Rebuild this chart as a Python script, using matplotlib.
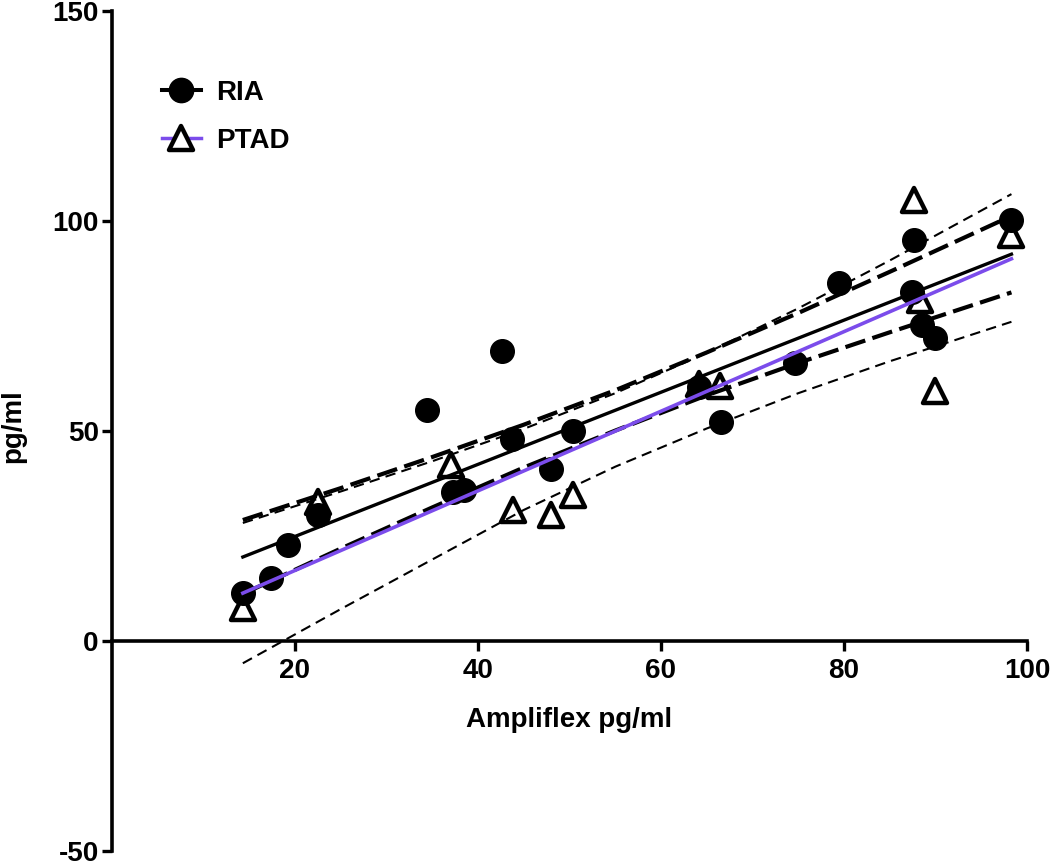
import matplotlib.pyplot as plt
from matplotlib.lines import Line2D
from matplotlib.markers import MarkerStyle

# values
ria_x = [14.3, 17.4, 19.2, 22.5, 34.4, 37.3, 38.5, 42.6, 43.7, 48.0,
         50.4, 64.1, 66.6, 74.6, 79.4, 87.4, 87.6, 88.5, 89.9, 98.3]
ria_y = [11.4, 15.0, 22.9, 30.0, 55.0, 35.5, 35.9, 69.0, 48.1, 41.0,
         50.1, 60.5, 52.1, 66.3, 85.2, 83.2, 95.4, 75.3, 72.2, 100.2]

ptad_x = [14.3, 22.5, 37.1, 43.8, 48.0, 50.4, 64.1, 66.4, 87.6, 88.3, 89.9, 98.3]
ptad_y = [7.9, 33.1, 41.8, 31.2, 30.0, 34.7, 61.1, 60.8, 104.9, 81.3, 59.6, 96.6]

# regression lines
fit_x = [14.3, 98.3]
ria_fit = [20.0, 92.1]
ptad_fit = [11.4, 91.0]

# 95% confidence bands
band_x = [14.3, 25, 35, 45, 55, 65, 75, 85, 98.3]
ria_hi = [28.8, 36.4, 43.8, 51.5, 59.7, 68.7, 78.1, 87.9, 101.2]
ria_lo = [11.2, 22.0, 31.8, 41.3, 50.1, 58.5, 66.2, 73.5, 83.0]
ptad_hi = [28.1, 35.6, 42.8, 50.5, 59.0, 68.6, 79.2, 90.6, 106.4]
ptad_lo = [-5.3, 7.6, 19.4, 31.2, 41.5, 50.6, 59.0, 66.6, 76.0]

x_ticks = [20, 40, 60, 80, 100]
y_ticks = [-50, 0, 50, 100, 150]

purple = '#7B4CEB'

plt.rcParams['font.family'] = ['Liberation Sans', 'DejaVu Sans']
plt.rcParams['font.weight'] = 'bold'
plt.rcParams['font.size'] = 20
plt.rcParams['axes.unicode_minus'] = False

fig = plt.figure(figsize=(10.5, 8.68), dpi=100)
ax = fig.add_axes([112 / 1050, 1 - 851 / 868, 915 / 1050, 840 / 868])

tri = MarkerStyle('^', joinstyle='round')

# points first, lines on top
ax.plot(ptad_x, ptad_y, linestyle='none', marker=tri, ms=17.5,
        mfc='white', mec='black', mew=3.2, zorder=2)
ax.plot(ria_x, ria_y, linestyle='none', marker='o', ms=17,
        mfc='black', mec='black', zorder=2.5)

ax.plot(band_x, ptad_hi, color='black', lw=1.5, dashes=(5, 3), zorder=3)
ax.plot(band_x, ptad_lo, color='black', lw=1.5, dashes=(5, 3), zorder=3)
ax.plot(band_x, ria_hi, color='black', lw=3.0, dashes=(5, 1.8), zorder=3.2)
ax.plot(band_x, ria_lo, color='black', lw=3.0, dashes=(5, 1.8), zorder=3.2)
ax.plot(fit_x, ria_fit, color='black', lw=2.4, zorder=3.4)
ax.plot(fit_x, ptad_fit, color=purple, lw=2.6, zorder=3.6)

ax.set_xlim(0, 100)
ax.set_ylim(-50, 150)
ax.set_xticks(x_ticks)
ax.set_yticks(y_ticks)

for s in ['top', 'right']:
    ax.spines[s].set_visible(False)
ax.spines['bottom'].set_position(('data', 0))
ax.spines['bottom'].set_bounds(0, 100)
ax.spines['left'].set_bounds(-50, 150)
for s in ['bottom', 'left']:
    ax.spines[s].set_linewidth(2.6)
    ax.spines[s].set_capstyle('projecting')

ax.tick_params(axis='both', direction='out', length=7.5, width=2.4, labelsize=20)
ax.tick_params(axis='y', pad=2)
ax.tick_params(axis='x', pad=5)

fig.text(569 / 1050, 1 - 727 / 868, 'Ampliflex pg/ml', ha='center', va='baseline',
         fontsize=20, fontweight='bold')
fig.text(13 / 1050, 1 - 426 / 868, 'pg/ml', ha='center', va='center', rotation=90,
         fontsize=20, fontweight='bold')

handles = [
    Line2D([], [], color='black', lw=2.9, marker='o', ms=17.5, mfc='black', mec='black'),
    Line2D([], [], color=purple, lw=2.5, marker=tri, ms=17.5, mfc='white', mec='black', mew=3.2),
]
ax.legend(handles, ['RIA', 'PTAD'], loc='upper left', bbox_to_anchor=(0.0546, 0.918),
          frameon=False, borderpad=0, borderaxespad=0, handlelength=1.4,
          handletextpad=0.55, labelspacing=0.8, prop={'weight': 'bold', 'size': 20})

fig.savefig('out.png', dpi=100)
